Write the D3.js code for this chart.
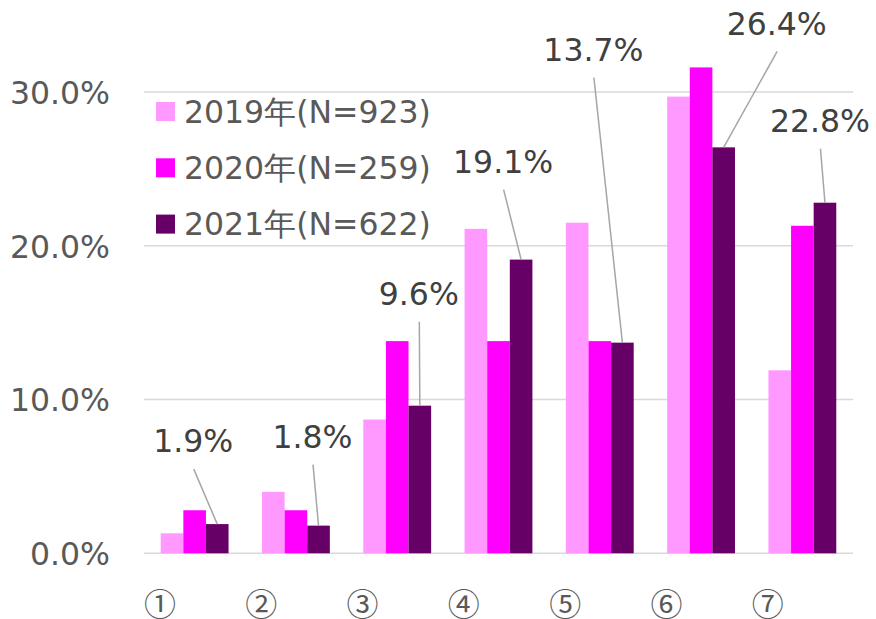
<!DOCTYPE html>
<html>
<head>
<meta charset="utf-8">
<script src="https://cdn.jsdelivr.net/npm/d3@7"></script>
<style>
  html, body { margin: 0; padding: 0; background: #fff; }
  svg { display: block; font-family: "DejaVu Sans", Verdana, sans-serif; }
</style>
</head>
<body>
<div id="chart"></div>
<script>
// datos
const categories = ['①', '②', '③', '④', '⑤', '⑥', '⑦'];
const seriesNames = ['2019年(N=923)', '2020年(N=259)', '2021年(N=622)'];
const values2019 = [1.3, 4.0, 8.7, 21.1, 21.5, 29.7, 11.9];
const values2020 = [2.8, 2.8, 13.8, 13.8, 13.8, 31.6, 21.3];
const values2021 = [1.9, 1.8, 9.6, 19.1, 13.7, 26.4, 22.8];
const yTicks = [0, 10, 20, 30];

// estilos
const COLORS = ['#FF99FF', '#FF00FF', '#660066'];
const width = 876;
const height = 619;
const plot = { left: 144, right: 853, top: 92, bottom: 553.3 };

// posiciones de las etiquetas del 2021 respecto a la punta de la barra
const labelOffsets = [[-24, -83], [-6, -89], [-1, -112], [-18, -98], [-29, -293], [53, -124], [-5, -82]];

const allSeries = [values2019, values2020, values2021];
const table = categories.map((c, i) => ({
    cat: c,
    vals: allSeries.map((s, k) => ({ key: seriesNames[k], value: s[i], k: k }))
}));

const svg = d3.select('#chart')
    .append('svg')
    .attr('width', width)
    .attr('height', height);

const escalaX = d3.scaleBand()
    .domain(categories)
    .range([plot.left, plot.right])
    .padding(0);

const escalaSerie = d3.scaleBand()
    .domain(seriesNames)
    .range([0, escalaX.bandwidth()])
    .paddingInner(0)
    .paddingOuter(0.74);

const escalaY = d3.scaleLinear()
    .domain([0, 30])
    .range([plot.bottom, plot.top]);

// grid
svg.append('g')
    .selectAll('line')
    .data(yTicks)
    .join('line')
    .attr('x1', plot.left)
    .attr('x2', plot.right)
    .attr('y1', d => escalaY(d))
    .attr('y2', d => escalaY(d))
    .attr('stroke', '#D9D9D9')
    .attr('stroke-width', 1.5);

// eje Y
const ejeY = d3.axisLeft(escalaY)
    .tickValues(yTicks)
    .tickFormat(d => d.toFixed(1) + '%')
    .tickSize(0)
    .tickPadding(0);

svg.append('g')
    .attr('transform', 'translate(110,0)')
    .call(ejeY)
    .call(g => g.select('.domain').remove())
    .selectAll('text')
    .attr('font-size', 31.5)
    .attr('font-family', '"DejaVu Sans", Verdana, sans-serif')
    .attr('fill', '#595959')
    .attr('dy', '0.36em');

// eje X
const ejeX = d3.axisBottom(escalaX).tickSize(0).tickPadding(0);
svg.append('g')
    .attr('transform', `translate(${16 - escalaX.bandwidth() / 2}, 605)`)
    .call(ejeX)
    .call(g => g.select('.domain').remove())
    .selectAll('text')
    .attr('font-size', 32)
    .attr('font-family', '"Noto Sans CJK JP", sans-serif')
    .attr('fill', '#595959')
    .attr('y', 0)
    .attr('dy', '0.35em');

// barras
const grupos = svg.append('g')
    .selectAll('g')
    .data(table)
    .join('g')
    .attr('transform', d => `translate(${escalaX(d.cat)},0)`);

grupos.selectAll('rect')
    .data(d => d.vals)
    .join('rect')
    .attr('x', d => escalaSerie(d.key))
    .attr('width', escalaSerie.bandwidth())
    .attr('y', d => escalaY(d.value))
    .attr('height', d => escalaY(0) - escalaY(d.value))
    .attr('fill', d => COLORS[d.k]);

// etiquetas 2021 con lineas guia
const etiquetas = svg.append('g');
values2021.forEach((v, i) => {
    const bx = escalaX(categories[i]) + escalaSerie(seriesNames[2]) + escalaSerie.bandwidth() / 2;
    const by = escalaY(v);
    const tx = bx + labelOffsets[i][0];
    const ty = by + labelOffsets[i][1];
    etiquetas.append('line')
        .attr('x1', tx + 0.5)
        .attr('y1', ty + 28)
        .attr('x2', bx)
        .attr('y2', by)
        .attr('stroke', '#A6A6A6')
        .attr('stroke-width', 1.5);
    etiquetas.append('text')
        .attr('x', tx)
        .attr('y', ty)
        .attr('dy', '0.36em')
        .attr('text-anchor', 'middle')
        .attr('font-size', 31.5)
        .attr('fill', '#404040')
        .text(v.toFixed(1) + '%');
});

// leyenda
const leyenda = svg.append('g')
    .selectAll('g')
    .data(seriesNames)
    .join('g')
    .attr('transform', (d, i) => `translate(156, ${111.5 + i * 56.3})`);

leyenda.append('rect')
    .attr('x', 0)
    .attr('y', -9.5)
    .attr('width', 19)
    .attr('height', 19)
    .attr('fill', (d, i) => COLORS[i]);

leyenda.append('text')
    .attr('x', 28)
    .attr('y', 0)
    .attr('dy', '0.36em')
    .attr('font-size', 31.5)
    .attr('fill', '#595959')
    .text(d => d);
</script>
</body>
</html>
